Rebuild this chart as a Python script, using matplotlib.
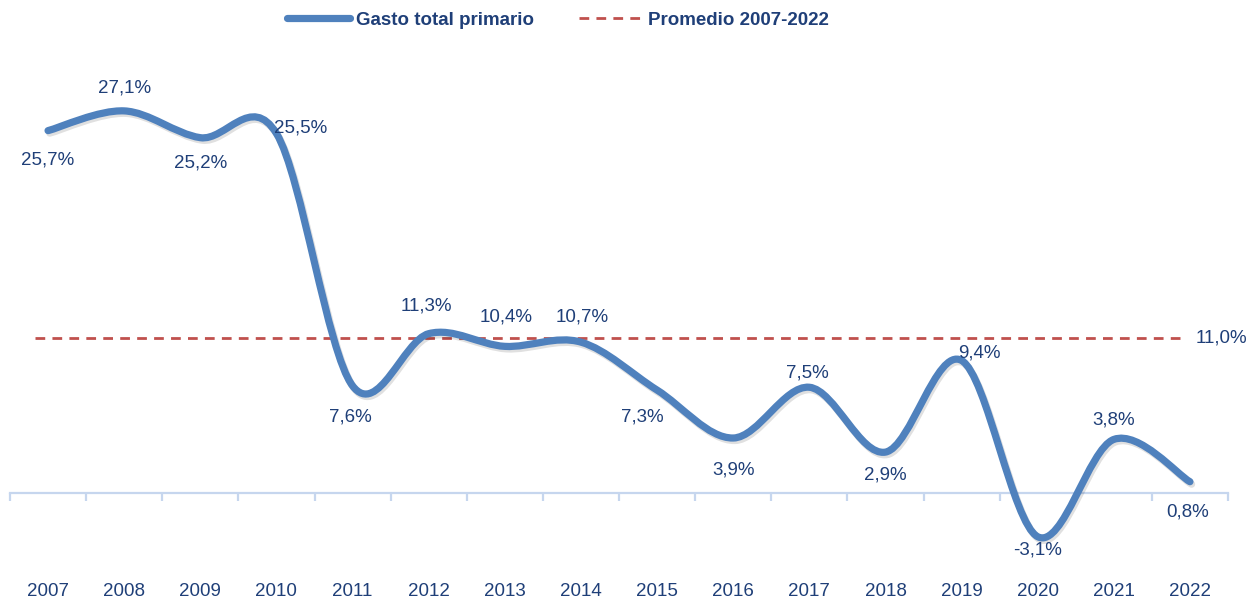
import numpy as np
import matplotlib
matplotlib.use("Agg")
import matplotlib.pyplot as plt
from matplotlib.path import Path
from matplotlib.patches import PathPatch
from matplotlib.lines import Line2D
import matplotlib.patheffects as pe

# -------------------------------
# data
# -------------------------------
years = ['2007', '2008', '2009', '2010', '2011', '2012', '2013', '2014',
         '2015', '2016', '2017', '2018', '2019', '2020', '2021', '2022']
gasto = [25.7, 27.1, 25.2, 25.5, 7.6, 11.3, 10.4, 10.7,
         7.3, 3.9, 7.5, 2.9, 9.4, -3.1, 3.8, 0.8]
promedio = 11.0

# label offsets in pixels (dx, dy)
offsets = [(0, -29), (0, 23), (0, -25), (24, 5), (-2, -31), (-2, 28),
           (1, 29), (1, 25), (-15, -27), (0, -32), (-2, 14), (0, -23),
           (18, 7), (0, -13), (0, 19), (-2, -30)]

BLUE = '#4F81BD'
RED = '#C0504D'
TXT = '#1F3F78'
AXC = '#C6D6EE'
FONT = ['Liberation Sans', 'DejaVu Sans']
FS = 13.5

plt.rcParams['font.family'] = FONT

fig = plt.figure(figsize=(12.57, 6.04), dpi=100)
ax = fig.add_axes([10 / 1257, 44 / 604, 1218 / 1257, 510 / 604])

x = np.arange(len(years))
y = np.array(gasto)

# smoothed line (Bezier, excel-like)
verts = [(x[0], y[0])]
codes = [Path.MOVETO]
n = len(x)
for i in range(n - 1):
    p0 = np.array([x[max(i - 1, 0)], y[max(i - 1, 0)]])
    p1 = np.array([x[i], y[i]])
    p2 = np.array([x[i + 1], y[i + 1]])
    p3 = np.array([x[min(i + 2, n - 1)], y[min(i + 2, n - 1)]])
    c1 = p1 + (p2 - p0) / 6
    c2 = p2 - (p3 - p1) / 6
    verts += [tuple(c1), tuple(c2), tuple(p2)]
    codes += [Path.CURVE4] * 3
patch = PathPatch(Path(verts, codes), facecolor='none', edgecolor=BLUE,
                  lw=5.2, capstyle='round', joinstyle='round', zorder=3)
patch.set_path_effects([pe.SimpleLineShadow(offset=(1.2, -1.8), alpha=0.12),
                        pe.Normal()])
ax.add_patch(patch)

# average line
ax.hlines(promedio, -0.17, 14.9, colors=RED, linestyles=(0, (3.5, 2.6)),
          lw=2.0, zorder=2)
ax.text(15.42, promedio, '11,0%', color=TXT, fontsize=FS,
        ha='center', va='center', clip_on=False)

# value labels
for xi, yi, (dx, dy) in zip(x, y, offsets):
    ax.annotate(f'{yi:.1f}%'.replace('.', ','), (xi, yi),
                xytext=(dx, dy), textcoords='offset pixels',
                ha='center', va='center', color=TXT, fontsize=FS, zorder=4)

# axes
ax.set_xlim(-0.5, 15.5)
ax.set_ylim(-(560 - 493) / 14.1, (493 - 50) / 14.1)
for s in ['top', 'right', 'left']:
    ax.spines[s].set_visible(False)
ax.spines['bottom'].set_position(('data', 0))
ax.spines['bottom'].set_color(AXC)
ax.spines['bottom'].set_linewidth(1.6)
ax.set_yticks([])
ax.set_xticks(np.arange(-0.5, 16, 1))
ax.set_xticklabels([])
ax.tick_params(axis='x', direction='out', length=6, width=1.6, color=AXC)

for xi, yr in zip(x, years):
    ax.text(xi, -(591 - 493) / 14.1, yr, ha='center', va='center',
            color=TXT, fontsize=FS)

# legend
handles = [Line2D([], [], color=BLUE, lw=5.2, solid_capstyle='round'),
           Line2D([], [], color=RED, lw=2.0, linestyle=(0, (3.5, 2.6)))]
fig.legend(handles, ['Gasto total primario', 'Promedio 2007-2022'],
           loc='center', bbox_to_anchor=(558 / 1257, 1 - 20 / 604), ncol=2,
           frameon=False, handlelength=3.4, handletextpad=0.3,
           columnspacing=2.4, prop={'family': FONT, 'weight': 'bold', 'size': 13.5},
           labelcolor=TXT)

fig.savefig('out.png', dpi=100, facecolor='white')
